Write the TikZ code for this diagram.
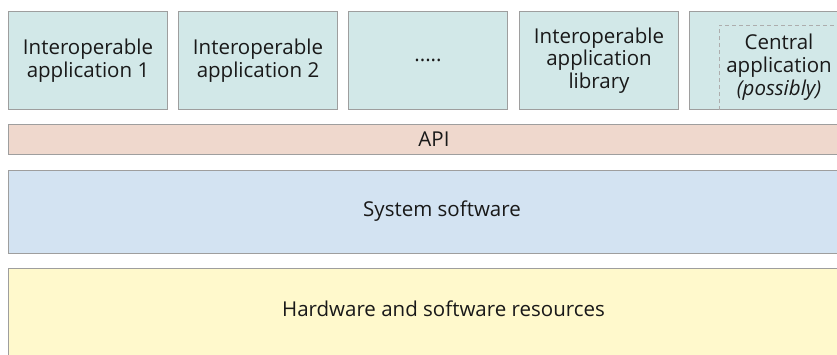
\documentclass[tikz,border=0pt]{standalone}
\usepackage{fontspec}
\setmainfont{Open Sans}
\begin{document}
\begin{tikzpicture}[x=1pt,y=-1pt,
  lbl/.style={font=\fontsize{20.5}{22.8}\selectfont,text=black!90,align=center,inner sep=0pt},
  box/.style={draw=black!38,line width=1pt,anchor=north west,inner sep=0pt,lbl},
  app/.style={box,fill=appfill,minimum width=159pt,minimum height=98pt},
]
\definecolor{appfill}{HTML}{D2E8E8}
\definecolor{apifill}{HTML}{EFD8CD}
\definecolor{sysfill}{HTML}{D3E3F2}
\definecolor{hwfill}{HTML}{FFF9CC}
\useasboundingbox (0,0) rectangle (837,354);
\clip (0,0) rectangle (837,354);
\node[app] (a1) at (8,11) {Interoperable\\application 1};
\node[app] (a2) at (178,11) {Interoperable\\application 2};
\node[app] (a3) at (348,11) {.....};
\node[app] (a4) at (519,11) {Interoperable\\application\\library};
\node[app,minimum width=180pt] (a5) at (689,11) {};
\draw[draw=black!32,line width=0.8pt,dash pattern=on 4pt off 3pt]
  (719,110) -- (719,25) -- (839,25) -- (839,110);
\node[lbl] (a5t) at (779,67)
  {Central\\application\\{\itshape(possibly)}};
\node[box,fill=apifill,minimum width=866pt,minimum height=30pt] (api) at (8,124) {};
\node[lbl] (apit) at (434,139) {API};
\node[box,fill=sysfill,minimum width=866pt,minimum height=83pt] (sys) at (8,170) {};
\node[lbl] (syst) at (442,211.5) {System software};
\node[box,fill=hwfill,minimum width=866pt,minimum height=100pt] (hw) at (8,268) {};
\node[lbl] (hwt) at (443.5,309) {Hardware and software resources};
\end{tikzpicture}
\end{document}
